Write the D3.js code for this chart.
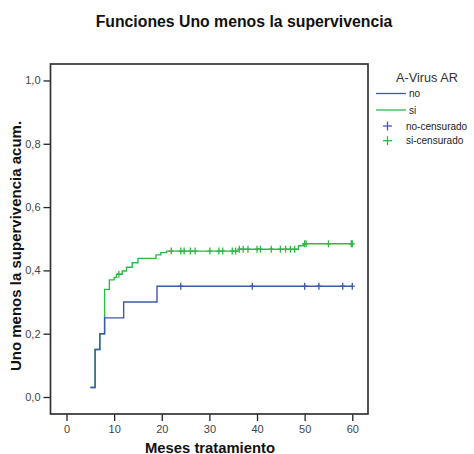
<!DOCTYPE html>
<html>
<head>
<meta charset="utf-8">
<script src="https://cdn.jsdelivr.net/npm/d3@7"></script>
<style>
  html, body { margin: 0; padding: 0; background: #fff; }
  svg { display: block; font-family: "Liberation Sans", Arial, sans-serif; }
</style>
</head>
<body>
<svg id="chart" width="474" height="454"></svg>
<script>
// ---- data ----
const titleText = "Funciones Uno menos la supervivencia";
const xTitle = "Meses tratamiento";
const yTitle = "Uno menos la supervivencia acum.";
const legendTitle = "A-Virus AR";
const groups = ["no", "si"];
const groupColors = ["#3E58AC", "#2EB848"];
const xTicks = [0, 10, 20, 30, 40, 50, 60];
const yTicks = [0, 0.2, 0.4, 0.6, 0.8, 1.0];

const noTimes = [5, 6, 7, 8, 12, 19, 60];
const noValues = [0.03, 0.15, 0.20, 0.25, 0.30, 0.35, 0.35];
const noCensored = [24, 39, 50, 53, 58, 60];

const siTimes = [5, 6, 7, 8, 9, 10, 10.5, 11.7, 12.6, 13.8, 15, 18.8, 19.8, 21, 36.3, 48.7, 49.7, 60];
const siValues = [0.03, 0.15, 0.20, 0.34, 0.37, 0.378, 0.388, 0.398, 0.41, 0.424, 0.438, 0.449, 0.456, 0.461, 0.467, 0.478, 0.484, 0.484];
const siCensored = [11, 22, 24, 24.7, 26, 27, 30.1, 32, 32.8, 34.8, 35.5, 36.3, 37.1, 38.1, 40, 40.7, 43, 44.9, 46, 47, 47.9, 50, 50.3, 55, 59.8, 60];

// ---- layout ----
const svg = d3.select("#chart");
const frame = {left: 50.5, right: 368, top: 64, bottom: 414};

const x = d3.scaleLinear().domain([-3.36, 63.3]).range([frame.left, frame.right]);
const y = d3.scaleLinear().domain([-0.0537, 1.052]).range([frame.bottom, frame.top]);

// title
svg.append("text")
  .attr("x", 244).attr("y", 27)
  .attr("text-anchor", "middle")
  .attr("font-size", 15.8).attr("font-weight", "bold").attr("fill", "#111")
  .text(titleText);

// axes
const xAxis = d3.axisBottom(x).tickValues(xTicks).tickSize(7).tickPadding(4).tickFormat(d3.format("d"));
const gx = svg.append("g").attr("transform", `translate(0,${frame.bottom})`).call(xAxis);
gx.select(".domain").remove();
gx.selectAll("line").attr("stroke", "#222").attr("stroke-width", 1.3);
gx.selectAll("text").attr("font-size", 11).attr("fill", "#444").attr("font-family", "Liberation Sans, Arial, sans-serif");

const yAxis = d3.axisLeft(y).tickValues(yTicks).tickSize(7).tickPadding(3)
  .tickFormat(d => d3.format(".1f")(d).replace(".", ","));
const gy = svg.append("g").attr("transform", `translate(${frame.left},0)`).call(yAxis);
gy.select(".domain").remove();
gy.selectAll("line").attr("stroke", "#222").attr("stroke-width", 1.3);
gy.selectAll("text").attr("font-size", 11).attr("fill", "#444").attr("font-family", "Liberation Sans, Arial, sans-serif");

// frame
svg.append("rect")
  .attr("x", frame.left).attr("y", frame.top)
  .attr("width", frame.right - frame.left).attr("height", frame.bottom - frame.top)
  .attr("fill", "none").attr("stroke", "#333").attr("stroke-width", 1.7);

// axis titles
svg.append("text")
  .attr("x", 210).attr("y", 452.5)
  .attr("text-anchor", "middle")
  .attr("font-size", 14.8).attr("font-weight", "bold").attr("fill", "#111")
  .text(xTitle);
svg.append("text")
  .attr("transform", `translate(20.5,${246}) rotate(-90)`)
  .attr("text-anchor", "middle")
  .attr("font-size", 15).attr("font-weight", "bold").attr("fill", "#111")
  .text(yTitle);

// series
const series = [
  {name: groups[0], color: groupColors[0], times: noTimes, values: noValues, cens: noCensored},
  {name: groups[1], color: groupColors[1], times: siTimes, values: siValues, cens: siCensored}
];

const line = d3.line().x(d => x(d[0])).y(d => y(d[1])).curve(d3.curveStepAfter);
function stepValue(s, t) {
  let v = s.values[0];
  for (let i = 0; i < s.times.length; i++) if (s.times[i] <= t) v = s.values[i];
  return v;
}

// draw "si" first, then "no" on top (as in the reference, overlapping early steps show blue)
[series[1], series[0]].forEach(s => {
  const pts = s.times.map((t, i) => [t, s.values[i]]);
  svg.append("path").datum(pts)
    .attr("d", line)
    .attr("fill", "none").attr("stroke", s.color).attr("stroke-width", 1.4);
});

// censor marks
series.forEach(s => {
  const g = svg.append("g").attr("stroke", s.color).attr("stroke-width", 1.3);
  s.cens.forEach(t => {
    const cx = x(t), cy = y(stepValue(s, t));
    g.append("line").attr("x1", cx).attr("x2", cx).attr("y1", cy - 3.5).attr("y2", cy + 3.5);
    g.append("line").attr("x1", cx - 2.5).attr("x2", cx + 2.5).attr("y1", cy).attr("y2", cy);
  });
});

// legend
const lg = svg.append("g").attr("font-family", "Liberation Sans, Arial, sans-serif");
lg.append("text").attr("x", 427).attr("y", 82).attr("text-anchor", "middle")
  .attr("font-size", 12.7).attr("fill", "#333").text(legendTitle);
groups.forEach((gname, i) => {
  const yy = 93.5 + i * 16.5;
  lg.append("line").attr("x1", 376).attr("x2", 406).attr("y1", yy).attr("y2", yy)
    .attr("stroke", groupColors[i]).attr("stroke-width", 1.3);
  lg.append("text").attr("x", 409).attr("y", yy + 3.5).attr("font-size", 10).attr("fill", "#222").text(gname);
});
groups.forEach((gname, i) => {
  const yy = 126 + i * 14.7;
  const cx = 387.5;
  lg.append("line").attr("x1", cx).attr("x2", cx).attr("y1", yy - 4.5).attr("y2", yy + 4.5)
    .attr("stroke", groupColors[i]).attr("stroke-width", 1.3);
  lg.append("line").attr("x1", cx - 4.5).attr("x2", cx + 4.5).attr("y1", yy).attr("y2", yy)
    .attr("stroke", groupColors[i]).attr("stroke-width", 1.3);
  lg.append("text").attr("x", 406).attr("y", yy + 3.5).attr("font-size", 10).attr("fill", "#222").text(gname + "-censurado");
});
</script>
</body>
</html>
